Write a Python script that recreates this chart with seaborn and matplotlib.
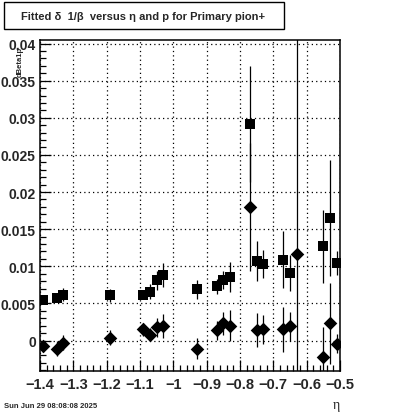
import numpy as np
import pandas as pd
import matplotlib
matplotlib.use('Agg')
import matplotlib.pyplot as plt
from matplotlib.ticker import MultipleLocator
import seaborn as sns

# Style setup (ROOT-like look)
sns.set_theme(style="white")
plt.rcParams['font.family'] = ['Liberation Sans', 'DejaVu Sans']
plt.rcParams['axes.unicode_minus'] = True

# Square series (upper points)
sq_eta = [-1.39, -1.35, -1.33, -1.19, -1.09, -1.07, -1.05, -1.03, -0.93, -0.87,
          -0.85, -0.83, -0.77, -0.75, -0.73, -0.67, -0.65, -0.55, -0.53, -0.51]
sq_val = [0.0054, 0.0058, 0.0062, 0.0061, 0.0062, 0.0066, 0.0081, 0.0088, 0.0069, 0.0073,
          0.0082, 0.0086, 0.0292, 0.0107, 0.0103, 0.0109, 0.0091, 0.0127, 0.0165, 0.0104]
sq_err = [0.0004, 0.0005, 0.0009, 0.0009, 0.0005, 0.0010, 0.0013, 0.0016, 0.0013, 0.0010,
          0.0012, 0.0020, 0.0078, 0.0027, 0.0019, 0.0038, 0.0024, 0.0049, 0.0078, 0.0016]

# Diamond series (lower points)
di_eta = [-1.39, -1.35, -1.33, -1.19, -1.09, -1.07, -1.05, -1.03, -0.93, -0.87,
          -0.85, -0.83, -0.77, -0.75, -0.73, -0.67, -0.65, -0.63, -0.55, -0.53, -0.51]
di_val = [-0.0007, -0.0011, -0.0003, 0.0004, 0.0015, 0.0008, 0.0018, 0.0020, -0.0011, 0.0014,
          0.0023, 0.0020, 0.0180, 0.0014, 0.0015, 0.0015, 0.0019, 0.0116, -0.0022, 0.0023, -0.0004]
di_err = [0.0008, 0.0010, 0.0010, 0.0010, 0.0009, 0.0009, 0.0013, 0.0016, 0.0014, 0.0013,
          0.0016, 0.0021, 0.0086, 0.0023, 0.0020, 0.0030, 0.0020, 0.0500, 0.0040, 0.0055, 0.0013]

sq = pd.DataFrame({'eta': sq_eta, 'val': sq_val, 'err': sq_err})
di = pd.DataFrame({'eta': di_eta, 'val': di_val, 'err': di_err})

fig = plt.figure(figsize=(4.0, 4.14), dpi=100)
ax = fig.add_axes([0.10, 0.1014, 0.75, 0.80])

# error bars then markers
ax.errorbar(sq['eta'], sq['val'], yerr=sq['err'], fmt='none', ecolor='black', elinewidth=0.9, capsize=0)
ax.errorbar(di['eta'], di['val'], yerr=di['err'], fmt='none', ecolor='black', elinewidth=0.9, capsize=0)
sns.scatterplot(data=sq, x='eta', y='val', marker='s', s=45, color='black', edgecolor='black',
                linewidth=0, ax=ax, zorder=3)
sns.scatterplot(data=di, x='eta', y='val', marker='D', s=48, color='black', edgecolor='black',
                linewidth=0, ax=ax, zorder=3)

ax.set_xlim(-1.4, -0.5)
ax.set_ylim(-0.0041, 0.0405)

# ticks: inside, on left/bottom only
ax.xaxis.set_major_locator(MultipleLocator(0.1))
ax.xaxis.set_minor_locator(MultipleLocator(0.02))
ax.yaxis.set_major_locator(MultipleLocator(0.005))
ax.yaxis.set_minor_locator(MultipleLocator(0.001))
ax.tick_params(which='major', direction='in', length=8, width=0.9, color='black',
               labelsize=10, pad=3, bottom=True, left=True, top=False, right=False)
ax.tick_params(which='minor', direction='in', length=4, width=0.9, color='black',
               bottom=True, left=True, top=False, right=False)
ax.tick_params(axis='x', which='major', labelsize=10.5, pad=4)
ax.set_xticks(np.arange(-1.4, -0.45, 0.1))
ax.set_xticklabels(['\u22121.4', '\u22121.3', '\u22121.2', '\u22121.1', '\u22121',
                    '\u22120.9', '\u22120.8', '\u22120.7', '\u22120.6', '\u22120.5'])
ax.set_yticks([0, 0.005, 0.01, 0.015, 0.02, 0.025, 0.03, 0.035, 0.04])
ax.set_yticklabels(['0', '0.005', '0.01', '0.015', '0.02', '0.025', '0.03', '0.035', '0.04'])
for lbl in ax.get_xticklabels() + ax.get_yticklabels():
    lbl.set_fontweight('bold')

ax.grid(True, which='major', color='black', linestyle=(0, (1, 2.5)), linewidth=0.9)
for sp in ax.spines.values():
    sp.set_color('black')
    sp.set_linewidth(1.1)
ax.set_xlabel('')
ax.set_ylabel('')

# axis titles, ROOT style
fig.text(0.832, 0.012, '\u03b7', fontsize=10, family=['Liberation Serif', 'DejaVu Serif'])
fig.text(0.05, 0.85, 'dBeta1p', fontsize=5.5, rotation=90, ha='center', va='center', fontweight='bold')

# title box
fig.text(0.053, 0.960, 'Fitted \u03b4  1/\u03b2  versus \u03b7 and p for Primary pion+', fontsize=8,
         fontweight='bold', va='center', ha='left')
box = plt.Rectangle((0.01, 0.9275), 0.70, 0.0655, transform=fig.transFigure, fill=False,
                    edgecolor='black', linewidth=1.0)
fig.patches.append(box)

# date stamp
fig.text(0.01, 0.015, 'Sun Jun 29 08:08:08 2025', fontsize=5.5, fontweight='bold')

fig.savefig('out.png', dpi=100)
